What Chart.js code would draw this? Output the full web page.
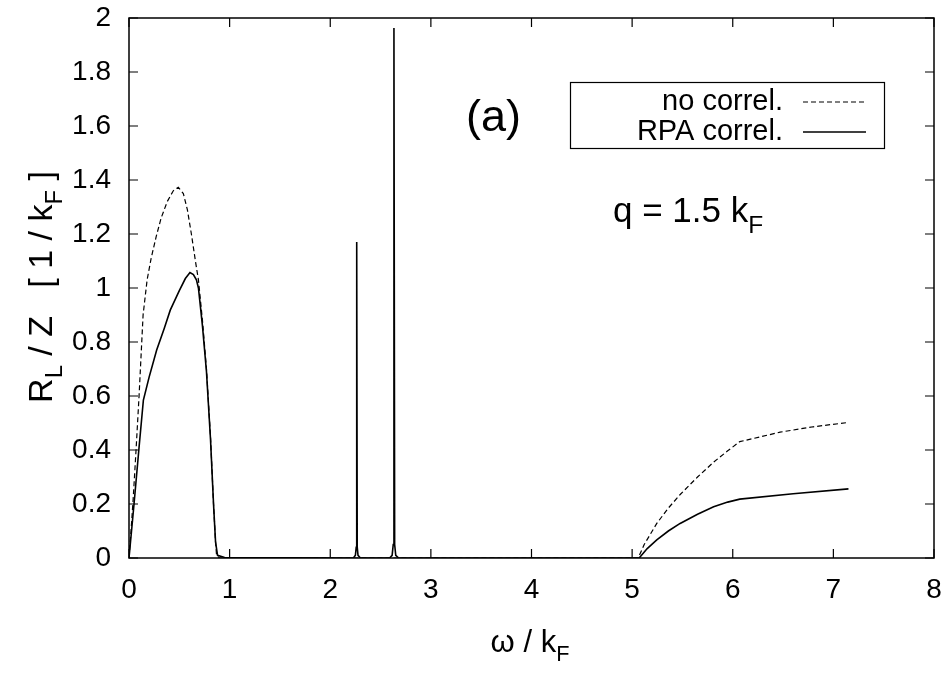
<!DOCTYPE html>
<html>
<head>
<meta charset="utf-8">
<script src="https://cdn.jsdelivr.net/npm/chart.js@4.4.1/dist/chart.umd.min.js"></script>
<style>
  html, body { margin: 0; padding: 0; background: #fff; }
  #wrap { width: 946px; height: 675px; }
</style>
</head>
<body>
<div id="wrap"><canvas id="respChart" width="946" height="675"></canvas></div>
<script>
// longitudinal response R_L / Z vs omega / k_F, q = 1.5 k_F
// free response (no correlations)
const omegaFree = [0, 0.02, 0.04, 0.07, 0.10, 0.14, 0.18, 0.22, 0.27, 0.32, 0.38, 0.44, 0.49,
  0.54, 0.58, 0.62, 0.66, 0.69, 0.73, 0.77, 0.81, 0.84, 0.86, 0.87, 0.90,
  5.06, 5.12, 5.245, 5.36, 5.48, 5.65, 5.81, 5.95, 6.07, 6.47, 6.8, 7.15];
const respFree = [0, 0.10, 0.21, 0.40, 0.60, 0.90, 1.03, 1.11, 1.19, 1.26, 1.32, 1.36, 1.373,
  1.35, 1.29, 1.20, 1.10, 1.03, 0.88, 0.70, 0.45, 0.20, 0.06, 0.01, 0,
  0, 0.05, 0.128, 0.185, 0.236, 0.30, 0.355, 0.397, 0.431, 0.466, 0.486, 0.502];

// RPA correlated response, with the two collective peaks
const omegaRpa = [0, 0.05, 0.10, 0.143, 0.20, 0.275, 0.35, 0.41, 0.50, 0.56, 0.606, 0.64, 0.67,
  0.69, 0.73, 0.77, 0.81, 0.84, 0.86, 0.88, 0.95,
  2.23, 2.25, 2.258, 2.263, 2.268, 2.276, 2.30,
  2.59, 2.615, 2.626, 2.633, 2.640, 2.651, 2.68,
  5.07, 5.15, 5.245, 5.36, 5.477, 5.65, 5.81, 5.95, 6.07, 6.6, 7.15];
const respRpa = [0, 0.20, 0.41, 0.585, 0.67, 0.77, 0.85, 0.918, 0.99, 1.035, 1.057, 1.05, 1.03,
  1.00, 0.86, 0.69, 0.44, 0.20, 0.06, 0.01, 0.002,
  0, 0.01, 0.04, 1.17, 0.04, 0.01, 0,
  0, 0.01, 0.05, 1.963, 0.05, 0.01, 0,
  0, 0.035, 0.067, 0.1, 0.128, 0.162, 0.19, 0.207, 0.218, 0.238, 0.256];

const xTicks = [0, 1, 2, 3, 4, 5, 6, 7, 8];
const yTicks = [0, 0.2, 0.4, 0.6, 0.8, 1, 1.2, 1.4, 1.6, 1.8, 2];

const FONT = '"Liberation Sans", Arial, Helvetica, sans-serif';

function toPoints(xs, ys) {
  return xs.map((x, i) => ({ x: x, y: ys[i] }));
}

// text with subscript pieces, e.g. [['R'], ['L', true]]
function richWidth(ctx, parts, size) {
  let w = 0;
  parts.forEach(p => {
    ctx.font = (p[1] ? size * 0.7 : size) + 'px ' + FONT;
    w += ctx.measureText(p[0]).width;
  });
  return w;
}

function drawRich(ctx, parts, x, y, size, align) {
  const total = richWidth(ctx, parts, size);
  let cx = align === 'center' ? x - total / 2 : (align === 'right' ? x - total : x);
  ctx.textAlign = 'left';
  ctx.textBaseline = 'alphabetic';
  parts.forEach(p => {
    ctx.font = (p[1] ? size * 0.7 : size) + 'px ' + FONT;
    ctx.fillText(p[0], cx, p[1] ? y + size * 0.3 : y);
    cx += ctx.measureText(p[0]).width;
  });
}

// box with inward ticks on all four sides
const framePlugin = {
  id: 'frame',
  beforeDatasetsDraw(chart) {
    const { ctx, chartArea: a, scales: { x, y } } = chart;
    const len = 9;
    ctx.save();
    ctx.strokeStyle = '#000';
    ctx.lineWidth = 1.5;
    ctx.strokeRect(a.left, a.top, a.right - a.left, a.bottom - a.top);
    ctx.lineWidth = 1.2;
    ctx.beginPath();
    xTicks.forEach(v => {
      const px = x.getPixelForValue(v);
      ctx.moveTo(px, a.bottom); ctx.lineTo(px, a.bottom - len);
      ctx.moveTo(px, a.top); ctx.lineTo(px, a.top + len);
    });
    yTicks.forEach(v => {
      const py = y.getPixelForValue(v);
      ctx.moveTo(a.left, py); ctx.lineTo(a.left + len, py);
      ctx.moveTo(a.right, py); ctx.lineTo(a.right - len, py);
    });
    ctx.stroke();
    ctx.restore();
  }
};

// axis titles, key box and annotations
const labelsPlugin = {
  id: 'labels',
  afterDraw(chart) {
    const ctx = chart.ctx;
    ctx.save();
    ctx.fillStyle = '#000';

    drawRich(ctx, [['\u03c9 / k'], ['F', true]], 530, 652, 31, 'center');

    ctx.save();
    ctx.translate(52, 287);
    ctx.rotate(-Math.PI / 2);
    drawRich(ctx, [['R'], ['L', true], [' / Z   [ 1 / k'], ['F', true], [' ]']], 0, 0, 34, 'center');
    ctx.restore();

    ctx.font = '45px ' + FONT;
    ctx.textAlign = 'left';
    ctx.textBaseline = 'alphabetic';
    ctx.fillText('(a)', 466, 131);

    drawRich(ctx, [['q = 1.5 k'], ['F', true]], 613, 222, 35, 'left');

    // key
    ctx.strokeStyle = '#000';
    ctx.lineWidth = 1.2;
    ctx.strokeRect(570.5, 82.5, 314, 66);
    const rows = [102, 132];
    chart.data.datasets.forEach((ds, i) => {
      ctx.font = '29px ' + FONT;
      ctx.textAlign = 'right';
      ctx.textBaseline = 'middle';
      ctx.fillText(ds.label, 783, rows[i]);
      ctx.beginPath();
      ctx.lineWidth = ds.borderWidth;
      ctx.setLineDash(ds.borderDash || []);
      ctx.moveTo(803, rows[i]);
      ctx.lineTo(866, rows[i]);
      ctx.stroke();
      ctx.setLineDash([]);
    });
    ctx.restore();
  }
};

const tickFont = { family: FONT, size: 28 };

new Chart(document.getElementById('respChart'), {
  type: 'line',
  data: {
    datasets: [
      {
        label: 'no correl.',
        data: toPoints(omegaFree, respFree),
        borderColor: '#000',
        borderWidth: 1.2,
        borderDash: [5, 3],
        pointRadius: 0,
        tension: 0,
        fill: false
      },
      {
        label: 'RPA correl.',
        data: toPoints(omegaRpa, respRpa),
        borderColor: '#000',
        borderWidth: 1.6,
        pointRadius: 0,
        tension: 0,
        fill: false
      }
    ]
  },
  options: {
    responsive: false,
    animation: false,
    devicePixelRatio: 1,
    layout: { padding: { top: 18, right: 12, left: 0, bottom: 0 } },
    plugins: {
      legend: { display: false },
      tooltip: { enabled: false }
    },
    scales: {
      x: {
        type: 'linear',
        min: 0,
        max: 8,
        grid: { display: false, drawTicks: false },
        border: { display: false },
        afterBuildTicks: s => { s.ticks = xTicks.map(v => ({ value: v })); },
        afterFit: s => { s.height = 117; s.paddingLeft = 0; s.paddingRight = 0; },
        ticks: { font: tickFont, color: '#000', padding: 15, maxRotation: 0,
          callback: v => String(v) }
      },
      y: {
        type: 'linear',
        min: 0,
        max: 2,
        grid: { display: false, drawTicks: false },
        border: { display: false },
        afterBuildTicks: s => { s.ticks = yTicks.map(v => ({ value: v })); },
        afterFit: s => { s.width = 129; s.paddingTop = 0; s.paddingBottom = 0; },
        ticks: { font: tickFont, color: '#000', padding: 18,
          callback: v => String(parseFloat(v.toFixed(1))) }
      }
    }
  },
  plugins: [framePlugin, labelsPlugin]
});
</script>
</body>
</html>
